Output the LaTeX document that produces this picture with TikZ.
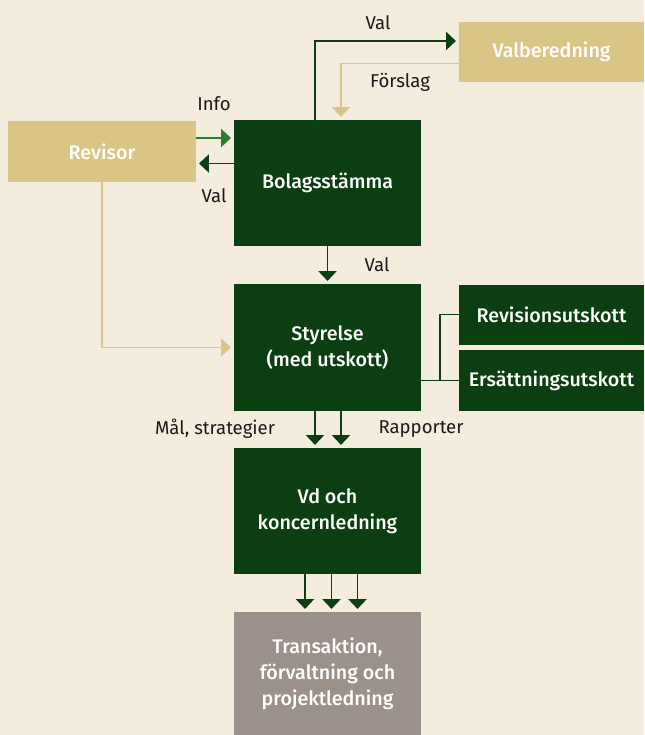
\documentclass[tikz,border=0pt]{standalone}
\usepackage{fontspec}
\setmainfont{Fira Sans}
\newfontfamily\boxfont{Fira Sans Medium}
\usetikzlibrary{arrows.meta,calc}

\definecolor{bgbeige}{HTML}{F4ECDC}
\definecolor{tanbox}{HTML}{D9C586}
\definecolor{darkgreen}{HTML}{0B3F11}
\definecolor{infogreen}{HTML}{2E7A2E}
\definecolor{greybox}{HTML}{9B918A}
\definecolor{labeltext}{HTML}{1A1A1A}

\tikzset{
  box/.style={rectangle,inner sep=0pt,align=center,text=white,
    font=\boxfont\fontsize{14}{18.4}\selectfont},
  lbl/.style={text=labeltext,font=\fontsize{13.2}{15}\selectfont,inner sep=0pt},
  tip/.style={-{Triangle[width=13pt,length=7pt]},line width=1pt,shorten >=2pt},
  garrow/.style={tip,draw=darkgreen},
  iarrow/.style={tip,draw=infogreen},
  tarrow/.style={tip,draw=tanbox},
  gline/.style={draw=darkgreen,line width=1pt}
}

\begin{document}
\begin{tikzpicture}[x=0.025cm,y=-0.025cm]
\fill[bgbeige] (0,0) rectangle (644,735);
\useasboundingbox (0,0) rectangle (644,735);

% boxes
\node[box,fill=tanbox,minimum width=185*0.025cm,minimum height=60*0.025cm] (valb) at (551.5,52) {Valberedning};
\node[box,fill=tanbox,minimum width=188*0.025cm,minimum height=61*0.025cm] (revisor) at (102,151.5) {Revisor};
\node[box,fill=darkgreen,minimum width=187*0.025cm,minimum height=126*0.025cm] (bolag) at (327.5,183) {Bolagsstämma};
\node[box,fill=darkgreen,minimum width=187*0.025cm,minimum height=127*0.025cm] (styr) at (327.5,347.5) {Styrelse\\(med utskott)};
\node[box,fill=darkgreen,minimum width=185*0.025cm,minimum height=60*0.025cm] (revu) at (551.5,314.5) {Revisionsutskott};
\node[box,fill=darkgreen,minimum width=185*0.025cm,minimum height=61*0.025cm] (ersu) at (551.5,380.5) {Ersättningsutskott};
\node[box,fill=darkgreen,minimum width=187*0.025cm,minimum height=126*0.025cm] (vd) at (327.5,511) {Vd och\\koncernledning};
\node[box,fill=greybox,minimum width=187*0.025cm,minimum height=123*0.025cm] (trans) at (327.5,673.5) {Transaktion,\\förvaltning och\\projektledning};

% bolagsstämma <-> valberedning
\coordinate (valS) at ($(bolag.north)+(-12.5,0)$);
\coordinate (valE) at ($(valb.west)+(0,-11)$);
\draw[garrow] (valS) |- (valE);
\coordinate (forS) at ($(valb.west)+(0,11.5)$);
\coordinate (forE) at ($(bolag.north)+(13.5,0)$);
\draw[tarrow] (forS) -| (forE);

% revisor <-> bolagsstämma
\coordinate (infoS) at ($(revisor.east)+(0,-13.5)$);
\draw[iarrow] (infoS) -- (infoS -| bolag.west);
\coordinate (valR) at ($(revisor.east)+(0,12)$);
\draw[garrow] (valR -| bolag.west) -- (valR);
\draw[tarrow] (revisor.south) |- (styr.west);

% bolagsstämma -> styrelse
\draw[garrow] (bolag.south) -- (styr.north);

% styrelse -- utskott
\coordinate (ujoin) at ($(styr.east |- ersu.west)!0.5!(ersu.west)$);
\draw[gline] (styr.east |- ersu.west) -- (ersu.west);
\draw[gline] (revu.west) -| (ujoin);

% styrelse -> vd
\foreach \dx in {-12.5,13.5}
  \draw[garrow] ($(styr.south)+(\dx,0)$) -- ($(vd.north)+(\dx,0)$);

% vd -> transaktion
\foreach \dx in {-22.5,4,30}
  \draw[garrow] ($(vd.south)+(\dx,0)$) -- ($(trans.north)+(\dx,0)$);

% labels
\node[lbl] (lval1) at (378,23) {Val};
\node[lbl] (lfor) at (400,82) {Förslag};
\node[lbl] (linfo) at (214,104) {Info};
\node[lbl] (lval2) at (214,196) {Val};
\node[lbl] (lval3) at (377,265) {Val};
\node[lbl] (lmal) at (215,429) {Mål, strategier};
\node[lbl] (lrap) at (421,429) {Rapporter};
\end{tikzpicture}
\end{document}
